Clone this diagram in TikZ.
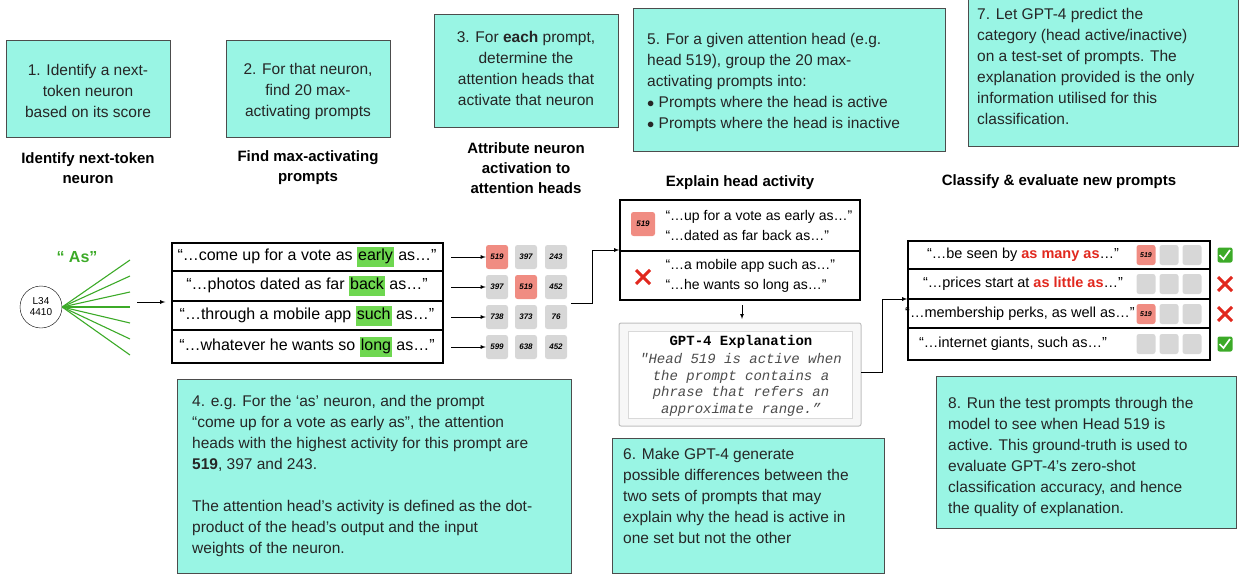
\documentclass[tikz,border=0pt]{standalone}
\usepackage{fontspec}
\setmainfont{Liberation Sans}
\setmonofont{Liberation Mono}
\definecolor{teal1}{RGB}{153,245,228}
\definecolor{hg}{RGB}{110,215,80}
\definecolor{gg}{RGB}{60,170,40}
\definecolor{redh}{RGB}{240,140,130}
\definecolor{grayh}{RGB}{215,215,215}
\definecolor{redt}{RGB}{225,40,30}
\newcommand{\hlw}[1]{{\setlength{\fboxsep}{1pt}\colorbox{hg}{\strut #1}}}
\begin{document}
\begin{tikzpicture}[x=1pt,y=-1pt,
  box/.style={draw=black!70,fill=teal1,line width=0.8pt},
  bt/.style={font=\fontsize{15.5}{21}\selectfont,text=black!85},
  txt/.style={bt,align=left,anchor=north west,inner sep=0},
  head/.style={font=\bfseries\fontsize{15}{20}\selectfont,align=center},
  hb/.style={fill=grayh,rounded corners=2.5pt,minimum width=22pt,minimum height=24pt,inner sep=0,font=\bfseries\itshape\fontsize{8}{9}\selectfont},
  hr/.style={hb,fill=redh},
  sb/.style={fill=grayh,rounded corners=2.5pt,minimum width=19pt,minimum height=20pt,inner sep=0,font=\bfseries\itshape\fontsize{7}{8}\selectfont},
  sr/.style={sb,fill=redh},
  arr/.style={-latex,line width=0.8pt},
  ptxt/.style={font=\fontsize{16}{18}\selectfont,inner sep=0},
  qtxt/.style={font=\fontsize{14.5}{17}\selectfont,inner sep=0}]
\useasboundingbox (0,0) rectangle (1242,575);
% top boxes
\draw[box] (6,40) rectangle (170,137);
\node[bt,align=center] (t1) at (88,91) {1. Identify a next-\\token neuron\\based on its score};
\draw[box] (226,40) rectangle (390,137);
\node[bt,align=center] (t2) at (308,91) {2. For that neuron,\\find 20 max-\\activating prompts};
\draw[box] (434,14) rectangle (618,127);
\node[bt,align=center] (t3) at (526,68) {3. For \textbf{each} prompt,\\determine the\\attention heads that\\activate that neuron};
\draw[box] (633,8) rectangle (945,151);
\node[txt] (t5) at (647,33) {5. For a given attention head (e.g.\\head 519), group the 20 max-\\activating prompts into:\\$\bullet$ Prompts where the head is active\\$\bullet$ Prompts where the head is inactive};
\draw[box] (968,-2) rectangle (1238,146);
\node[txt] (t7) at (977,8) {7. Let GPT-4 predict the\\category (head active/inactive)\\on a test-set of prompts. The\\explanation provided is the only\\information utilised for this\\classification.};
% headings
\node[head] (h1) at (88,168) {Identify next-token\\neuron};
\node[head] (h2) at (308,168) {Find max-activating\\prompts};
\node[head] (h3) at (526,168) {Attribute neuron\\activation to\\attention heads};
\node[head] (h4) at (740,183) {Explain head activity};
\node[head] (h5) at (1059,182) {Classify \& evaluate new prompts};
% neuron
\node[draw,circle,minimum size=42pt,inner sep=0,font=\fontsize{10}{11}\selectfont,align=center] (n) at (41,307) {L34\\4410};
\node[font=\bfseries\fontsize{16}{18}\selectfont,text=gg] (as) at (77,257) {“ As”};
\foreach \y [count=\i] in {260,276,292,307,323,339,355}{
  \coordinate (e\i) at (130,\y);
  \draw[gg,line width=1.1pt] (n.east) -- (e\i);}
\coordinate (a0) at (137,302);
\node[inner sep=0] (a1) at (166,302) {};
\draw[arr] (a0) -- (a1);
% prompts table
\draw[line width=1.8pt] (172,243) rectangle (443,363);
\foreach \y in {271,301,330} \draw[line width=1.1pt] (172,\y) -- (443,\y);
\node[ptxt] (p1) at (307,257) {“…come up for a vote as \hlw{early} as…”};
\node[ptxt] (p2) at (307,286) {“…photos dated as far \hlw{back} as…”};
\node[ptxt] (p3) at (307,316) {“…through a mobile app \hlw{such} as…”};
\node[ptxt] (p4) at (307,347) {“…whatever he wants so \hlw{long} as…”};
\foreach \y/\a/\b/\c/\sa/\sb/\sc [count=\i] in {257/519/397/243/hr/hb/hb,287/397/519/452/hb/hr/hb,317/738/373/76/hb/hb/hb,347/599/638/452/hb/hb/hb}{
  \coordinate (r\i) at (451,\y);
  \node[\sa] (ha\i) at (497,\y) {\a};
  \node[\sb] (hbb\i) at (526,\y) {\b};
  \node[\sc] (hc\i) at (556,\y) {\c};
  \draw[arr] (r\i) -- (ha\i.west);}
% connector to explain box
\coordinate (k1) at (592,303);
\coordinate (k2) at (592,250);
\node[inner sep=0] (xb) at (620,250) {};
\draw[line width=0.8pt] (571,303) -- (k1) -- (k2);
\draw[arr] (k2) -- (xb);
% explain box
\draw[line width=1.8pt] (620,200) rectangle (860,300);
\draw[line width=1.1pt] (620,251) -- (860,251);
\node[hr,minimum width=24pt,minimum height=24pt] (eh) at (643,224) {519};
\node[font=\fontsize{14}{20}\selectfont,align=left,anchor=west] (et1) at (662,225) {“…up for a vote as early as…”\\“…dated as far back as…”};
\node[font=\fontsize{14}{20}\selectfont,align=left,anchor=west] (et2) at (662,276) {“…a mobile app such as…”\\“…he wants so long as…”};
\node (ex) at (643,277) {};
\draw[redt,line width=3pt] (636,270) -- (650,284) (636,284) -- (650,270);
\coordinate (d0) at (742,305);
\coordinate (d1) at (742,319);
\draw[-latex,line width=0.7pt] (d0) -- (d1);
% GPT explanation box
\draw[black!25,fill=black!3,rounded corners=2pt,line width=1pt] (619,323) rectangle (861,426);
\draw[black!15,fill=white] (628,331) rectangle (852,418);
\node[font=\ttfamily\bfseries\fontsize{14}{16}\selectfont] (gt) at (741,342) {GPT-4 Explanation};
\node[font=\ttfamily\itshape\fontsize{14}{16.5}\selectfont,text=black!70,align=center,anchor=north] (gx) at (741,350) {"Head 519 is active when\\the prompt contains a\\phrase that refers an\\approximate range.”};
% connector to classify
\coordinate (c1) at (882,372);
\coordinate (c2) at (882,299);
\node[inner sep=0] (ct) at (908,299) {};
\draw[line width=0.8pt] (861,372) -- (c1) -- (c2);
\draw[arr] (c2) -- (ct);
% classify table
\draw[line width=1.8pt] (908,241) rectangle (1210,360);
\foreach \y in {269,299,328} \draw[line width=1.1pt] (908,\y) -- (1210,\y);
\node[qtxt] (q1) at (1023,255) {“…be seen by \textcolor{redt}{\textbf{as many as}}…”};
\node[qtxt] (q2) at (1023,284) {“…prices start at \textcolor{redt}{\textbf{as little as}}…”};
\node[qtxt] (q3) at (1020,314) {“…membership perks, as well as…”};
\node[qtxt] (q4) at (1013,344) {“…internet giants, such as…”};
\foreach \y/\s [count=\i] in {255/sr,284/sb,314/sr,344/sb}{
  \node[\s] (sa\i) at (1146,\y) {\ifnum\i=2 \else\ifnum\i=4 \else 519\fi\fi};
  \node[sb] (sbb\i) at (1169,\y) {};
  \node[sb] (sc\i) at (1192,\y) {};}
\foreach \y [count=\i] in {255,344}{
  \node[fill=gg,rounded corners=2pt,minimum size=15pt,inner sep=0] (ok\i) at (1225,\y) {};
  \draw[white,line width=1.7pt] (1219.5,\y) -- (1223.5,\y+4) -- (1230,\y-5);}
\foreach \y [count=\i] in {284,314}{
  \node (no\i) at (1225,\y) {};
  \draw[redt,line width=3pt] (1218,\y-7) -- (1232,\y+7) (1218,\y+7) -- (1232,\y-7);}
% bottom boxes
\draw[box] (177,379) rectangle (571,573);
\node[txt] (t4) at (192,395) {4. e.g. For the ‘as’ neuron, and the prompt\\“come up for a vote as early as”, the attention\\heads with the highest activity for this prompt are\\\textbf{519}, 397 and 243.\\[21pt]The attention head’s activity is defined as the dot-\\product of the head’s output and the input\\weights of the neuron.};
\draw[box] (612,438) rectangle (884,573);
\node[txt] (t6) at (623,448) {6. Make GPT-4 generate\\possible differences between the\\two sets of prompts that may\\explain why the head is active in\\one set but not the other};
\draw[box] (936,376) rectangle (1236,528);
\node[txt] (t8) at (948,397) {8. Run the test prompts through the\\model to see when Head 519 is\\active. This ground-truth is used to\\evaluate GPT-4’s zero-shot\\classification accuracy, and hence\\the quality of explanation.};
\end{tikzpicture}
\end{document}
